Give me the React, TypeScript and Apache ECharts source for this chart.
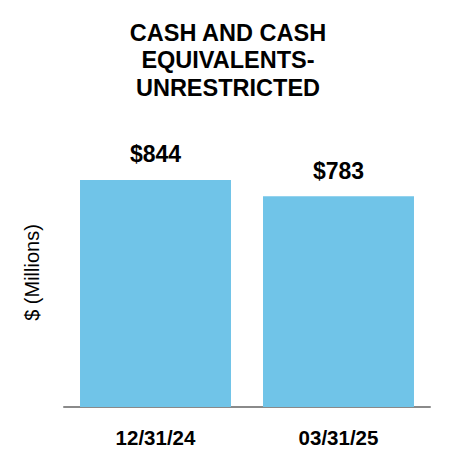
import React, { useEffect, useRef } from "react";
import * as echarts from "echarts";

const categories = ["12/31/24", "03/31/25"];
const values = [844, 783];
const valueLabels = ["$844", "$783"];
const titleLines = ["CASH AND CASH", "EQUIVALENTS-", "UNRESTRICTED"];
const yAxisName = "$ (Millions)";

export default function App() {
  const ref = useRef<HTMLDivElement>(null);
  useEffect(() => {
    if (!ref.current) return;
    const chart = echarts.init(ref.current, null, { renderer: "svg" });
    const font = "'Liberation Sans', Arial, sans-serif";
    chart.setOption({
      animation: false,
      backgroundColor: "#ffffff",
      title: {
        text: titleLines.join("\n"),
        left: 223,
        top: 14,
        textAlign: "center",
        textStyle: {
          fontFamily: font,
          fontWeight: "bold",
          fontSize: 23.5,
          lineHeight: 27.5,
          color: "#000",
        },
      },
      grid: { left: 64, right: 20, top: 138, bottom: 59 },
      xAxis: {
        type: "category",
        data: categories,
        axisLine: { lineStyle: { color: "#8a8a8a", width: 2 } },
        axisTick: { show: false },
        axisLabel: {
          fontFamily: font,
          fontWeight: "bold",
          fontSize: 20.5,
          color: "#000",
          margin: 20,
        },
      },
      yAxis: {
        type: "value",
        min: 0,
        max: 1000,
        show: true,
        axisLine: { show: false },
        axisTick: { show: false },
        axisLabel: { show: false },
        splitLine: { show: false },
        name: yAxisName,
        nameLocation: "middle",
        nameRotate: 90,
        nameGap: 22,
        nameTextStyle: { fontFamily: font, fontSize: 20, color: "#000" },
      },
      series: [
        {
          type: "bar",
          data: values,
          barCategoryGap: "17.5%",
          itemStyle: { color: "#70C4E8" },
          label: {
            show: true,
            position: "top",
            distance: 14,
            formatter: (p: any) => valueLabels[p.dataIndex],
            fontFamily: font,
            fontWeight: "bold",
            fontSize: 23,
            color: "#000",
          },
        },
      ],
    });
    return () => chart.dispose();
  }, []);
  return <div ref={ref} style={{ width: 450, height: 466, margin: -8 }} />;
}
